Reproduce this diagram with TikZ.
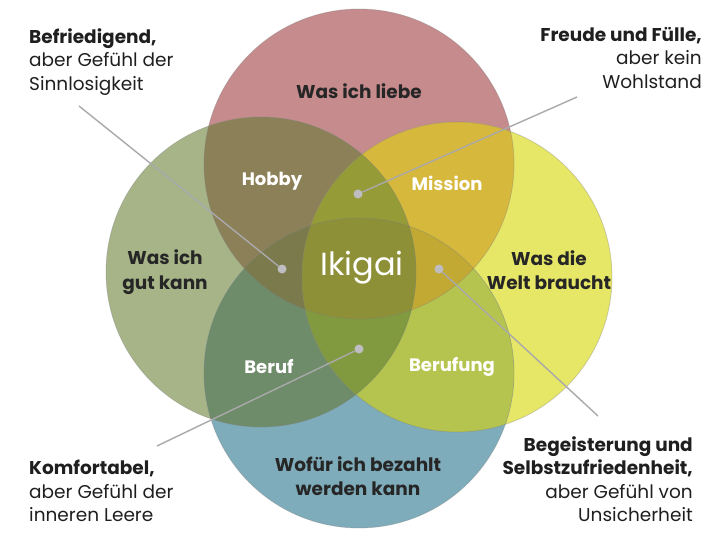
\documentclass[tikz,border=0pt]{standalone}
\usepackage{fontspec}
\setmainfont{Poppins}
\usetikzlibrary{positioning}
\definecolor{loveRed}{HTML}{C68B8C}
\definecolor{goodGreen}{HTML}{A6B487}
\definecolor{worldYellow}{HTML}{E6E667}
\definecolor{payBlue}{HTML}{7EACBA}
\definecolor{hobbyCol}{HTML}{8C8058}
\definecolor{missionCol}{HTML}{D6B83C}
\definecolor{berufCol}{HTML}{6E8C69}
\definecolor{berufungCol}{HTML}{B5C44E}
\definecolor{rgyCol}{HTML}{959B37}
\definecolor{rgbCol}{HTML}{7A7A4C}
\definecolor{rybCol}{HTML}{C2A933}
\definecolor{gybCol}{HTML}{819A3F}
\definecolor{ikigaiCol}{HTML}{8D9036}
\definecolor{leadGrey}{HTML}{A9A9AB}
\definecolor{dotGrey}{HTML}{BDBDC2}
\def\rad{155pt}
\tikzstyle{annot} = [font=\fontsize{18.5}{23.5}\selectfont, text=black!88, inner sep=0pt]
\tikzstyle{circtext} = [font=\fontsize{18.5}{24.5}\selectfont\bfseries, text=black!85, align=center, inner sep=0pt]
\tikzstyle{overlap} = [font=\fontsize{18}{24}\selectfont\bfseries, text=white, inner sep=0pt]
\tikzstyle{dot} = [circle, fill=dotGrey, minimum size=9pt, inner sep=0pt]
\tikzstyle{leader} = [draw=leadGrey, line width=1.4pt]
\tikzstyle{rim} = [draw=gray, draw opacity=0.35, line width=0.8pt]

\begin{document}
\begin{tikzpicture}[x=1pt, y=-1pt]
\useasboundingbox (0,0) rectangle (720,540);
% Circle centres
\coordinate (love) at (359,164);
\coordinate (good) at (261,272);
\coordinate (world) at (457,277);
\coordinate (pay) at (359,373);

% Circles
\fill[loveRed] (love) circle[radius=\rad];
\fill[goodGreen] (good) circle[radius=\rad];
\fill[worldYellow] (world) circle[radius=\rad];
\fill[payBlue] (pay) circle[radius=\rad];

% Overlaps of two
\begin{scope}
\clip (love) circle[radius=\rad];
\fill[hobbyCol] (good) circle[radius=\rad];
\fill[missionCol] (world) circle[radius=\rad];
\end{scope}
\begin{scope}
\clip (pay) circle[radius=\rad];
\fill[berufCol] (good) circle[radius=\rad];
\fill[berufungCol] (world) circle[radius=\rad];
\end{scope}

% Overlaps of three
\begin{scope}
\clip (love) circle[radius=\rad];
\clip (good) circle[radius=\rad];
\fill[rgyCol] (world) circle[radius=\rad];
\fill[rgbCol] (pay) circle[radius=\rad];
\end{scope}
\begin{scope}
\clip (world) circle[radius=\rad];
\clip (pay) circle[radius=\rad];
\fill[rybCol] (love) circle[radius=\rad];
\fill[gybCol] (good) circle[radius=\rad];
\end{scope}

% Centre
\begin{scope}
\clip (love) circle[radius=\rad];
\clip (good) circle[radius=\rad];
\clip (world) circle[radius=\rad];
\fill[ikigaiCol] (pay) circle[radius=\rad];
\end{scope}

% Rims
\foreach \c in {love, good, world, pay}
  \draw[rim] (\c) circle[radius=\rad];

% Circle labels
\node[circtext] (liebe) at (359,91) {Was ich liebe};
\node[circtext] (kann) at (165,272) {Was ich\\gut kann};
\node[circtext] (welt) at (549,270) {Was die\\Welt braucht};
\node[circtext] (bezahlt) at (358,476) {Wofür ich bezahlt\\werden kann};
\node[overlap] (hobby) at (272,181) {Hobby};
\node[overlap] (mission) at (447,183) {Mission};
\node[overlap] (beruf) at (269,367) {Beruf};
\node[overlap] (berufung) at (452,367) {Berufung};
\node[font=\fontsize{32}{38}\selectfont, text=white, inner sep=0pt] (ikigai) at (362,268) {Ikigai};

% Dots
\node[dot] (dleft) at (282,269) {};
\node[dot] (dtop) at (358,194) {};
\node[dot] (dbottom) at (359,349) {};
\node[dot] (dright) at (439,269) {};

% Notes
\node[annot, anchor=north west, align=left] (befr) at (29,28) {\textbf{Befriedigend,}\\aber Gefühl der\\Sinnlosigkeit};
\node[annot, anchor=north east, align=right] (freude) at (702,27) {\textbf{Freude und Fülle,}\\aber kein\\Wohlstand};
\node[annot, anchor=north west, align=left] (komf) at (29,460) {\textbf{Komfortabel,}\\aber Gefühl der\\inneren Leere};
\node[annot, anchor=north east, align=right] (begeist) at (693,436) {\textbf{Begeisterung und}\\\textbf{Selbstzufriedenheit,}\\aber Gefühl von\\Unsicherheit};

% Leader ends
\coordinate (befr-end) at (79,106);
\coordinate (freude-end) at (577,97);
\coordinate (komf-end) at (157,446);
\coordinate (begeist-end) at (598,416);

% Leaders
\draw[leader] (befr-end) -- (dleft);
\draw[leader] (freude-end) -- (dtop);
\draw[leader] (komf-end) -- (dbottom);
\draw[leader] (begeist-end) -- (dright);
\end{tikzpicture}
\end{document}
